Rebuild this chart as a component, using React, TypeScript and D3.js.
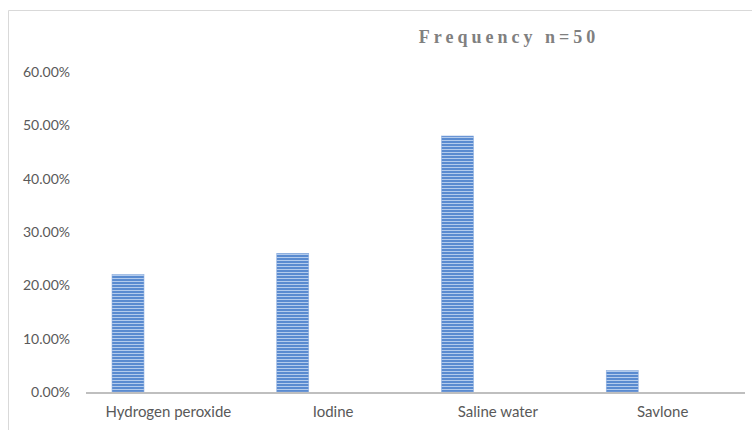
import React from "react";
import * as d3 from "d3";

const categories = ["Hydrogen peroxide", "Iodine", "Saline water", "Savlone"];
const percentages = [0.22, 0.26, 0.48, 0.04];
const series = ["Percentage", "Frequency"];
const yTicks = [0, 0.1, 0.2, 0.3, 0.4, 0.5, 0.6];
const title = "Frequency n=50";

const W = 752;
const H = 430;
const plot = { left: 86, right: 745, top: 72, bottom: 392 };

export default function App() {
  const x = d3.scaleBand<string>().domain(categories).range([plot.left, plot.right]);
  const xs = d3
    .scaleBand<string>()
    .domain(series)
    .range([0, x.bandwidth()])
    .paddingInner(0.604)
    .paddingOuter(0.322);
  const y = d3.scaleLinear().domain([0, 0.6]).range([plot.bottom, plot.top]);
  const fmt = (v: number) => (v * 100).toFixed(2) + "%";
  const font = "Lato, 'Open Sans', sans-serif";

  return (
    <svg
      width={W}
      height={H}
      style={{ position: "absolute", left: 0, top: 0, background: "#fff" }}
    >
      <defs>
        <pattern id="stripes" width="4" height="3" patternUnits="userSpaceOnUse">
          <rect width="4" height="3" fill="#5a8bd0" />
          <rect y="2" width="4" height="1" fill="#b3cbec" />
        </pattern>
      </defs>
      {/* chart frame */}
      <line x1={8.5} x2={W} y1={10.5} y2={10.5} stroke="#d9d9d9" />
      <line x1={8.5} x2={8.5} y1={10.5} y2={H} stroke="#d9d9d9" />

      <text
        x={509}
        y={43}
        textAnchor="middle"
        fontFamily="'Liberation Serif', 'DejaVu Serif', serif"
        fontWeight="bold"
        fontSize={18}
        letterSpacing={4}
        fill="#808080"
      >
        {title}
      </text>

      {yTicks.map((t) => (
        <text
          key={t}
          x={70}
          y={y(t)}
          dy="0.35em"
          textAnchor="end"
          fontFamily={font}
          fontSize={14}
          fill="#595959"
        >
          {fmt(t)}
        </text>
      ))}

      {categories.map((c, i) => (
        <rect
          key={c}
          x={(x(c) ?? 0) + (xs(series[0]) ?? 0)}
          y={y(percentages[i])}
          width={xs.bandwidth()}
          height={y(0) - y(percentages[i])}
          fill="url(#stripes)"
          stroke="#8fb0e0"
          strokeWidth={0.6}
        />
      ))}

      <line
        x1={plot.left}
        x2={plot.right}
        y1={plot.bottom + 1}
        y2={plot.bottom + 1}
        stroke="#bfbfbf"
        strokeWidth={2}
      />

      {categories.map((c) => (
        <text
          key={c}
          x={(x(c) ?? 0) + x.bandwidth() / 2}
          y={412}
          dy="0.35em"
          textAnchor="middle"
          fontFamily={font}
          fontSize={15}
          fill="#595959"
        >
          {c}
        </text>
      ))}
    </svg>
  );
}
